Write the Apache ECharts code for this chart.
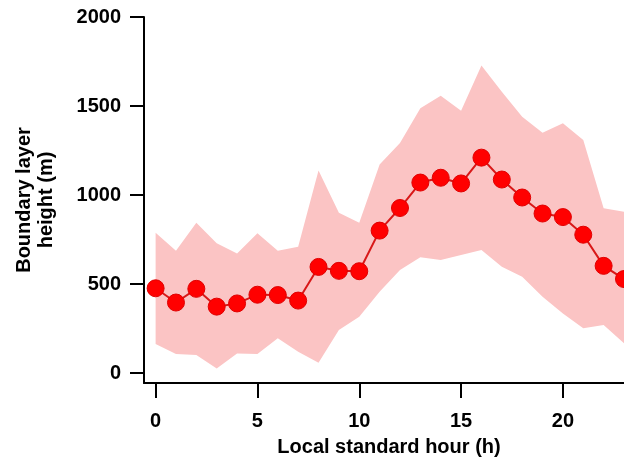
<!DOCTYPE html>
<html>
<head>
<meta charset="utf-8">
<script src="https://cdn.jsdelivr.net/npm/echarts@6/dist/echarts.min.js"></script>
<style>
html,body{margin:0;padding:0;background:#fff;}
#main{width:624px;height:459px;}
</style>
</head>
<body>
<div id="main"></div>
<script>
var hours = [0,1,2,3,4,5,6,7,8,9,10,11,12,13,14,15,16,17,18,19,20,21,22,23];
var meanHeight = [476,396,473,373,391,440,438,407,596,574,572,800,927,1070,1097,1065,1210,1087,986,896,876,777,602,528];
var lowerHeight = [163,107,101,26,110,107,195,120,58,242,316,457,579,650,635,663,691,597,541,429,335,251,270,167];
var upperHeight = [788,687,844,729,672,785,687,710,1138,900,844,1172,1292,1487,1558,1474,1727,1580,1440,1350,1403,1309,925,906];
var xTicks = [0,5,10,15,20];
var yTicks = [0,500,1000,1500,2000];

function pairs(xs, ys){
	var out = [];
	for (var i = 0; i < xs.length; i++){
		out.push([xs[i], ys[i]]);
	}
	return out;
}

// band drawn once as a polygon: upper edge left->right, lower edge back
function renderBand(params, api){
	if (params.dataIndex !== 0) return;
	var pts = [];
	for (var i = 0; i < hours.length; i++){
		pts.push(api.coord([hours[i], upperHeight[i]]));
	}
	for (var j = hours.length - 1; j >= 0; j--){
		pts.push(api.coord([hours[j], lowerHeight[j]]));
	}
	return {
		type: 'polygon',
		shape: {points: pts},
		style: {fill: '#fbc4c4', stroke: null}
	};
}

var font = '"Liberation Sans", Arial, sans-serif';
var el = echarts.init(document.getElementById('main'));
var opt = {
	animation: false,
	grid: {left: 144, right: 0, top: 17, bottom: 76, outerBoundsMode: 'none'},
	xAxis: {
		type: 'value',
		min: -0.57,
		max: 23,
		name: 'Local standard hour (h)',
		nameLocation: 'middle',
		nameGap: 54,
		nameTextStyle: {color: '#000', fontSize: 20, fontWeight: 'bold', fontFamily: font, padding: [0, 0, 0, 10]},
		axisLine: {onZero: false, lineStyle: {color: '#000', width: 2}},
		axisTick: {show: true, length: 15, customValues: xTicks, lineStyle: {color: '#000', width: 2}},
		axisLabel: {customValues: xTicks, margin: 28, color: '#000', fontSize: 20, fontWeight: 'bold', fontFamily: font},
		splitLine: {show: false}
	},
	yAxis: {
		type: 'value',
		min: -56,
		max: 2000,
		name: 'Boundary layer\nheight (m)',
		nameLocation: 'middle',
		nameGap: 87,
		nameTextStyle: {color: '#000', fontSize: 20, fontWeight: 'bold', fontFamily: font, lineHeight: 22, align: 'center'},
		axisLine: {show: true, onZero: false, lineStyle: {color: '#000', width: 2}},
		axisTick: {show: true, length: 14, customValues: yTicks, lineStyle: {color: '#000', width: 2}},
		axisLabel: {
			customValues: yTicks, margin: 23, color: '#000', fontSize: 20, fontWeight: 'bold', fontFamily: font,
			formatter: function(v){ return String(v); }
		},
		splitLine: {show: false}
	},
	series: [
		{
			type: 'custom',
			renderItem: renderBand,
			data: hours,
			silent: true,
			z: 1
		},
		{
			type: 'line',
			data: pairs(hours, meanHeight),
			symbol: 'circle',
			symbolSize: 17,
			clip: false,
			z: 3,
			lineStyle: {color: '#d81818', width: 2},
			itemStyle: {color: '#ff0000', borderColor: '#e00000', borderWidth: 1}
		}
	]
};
el.setOption(opt);
</script>
</body>
</html>
